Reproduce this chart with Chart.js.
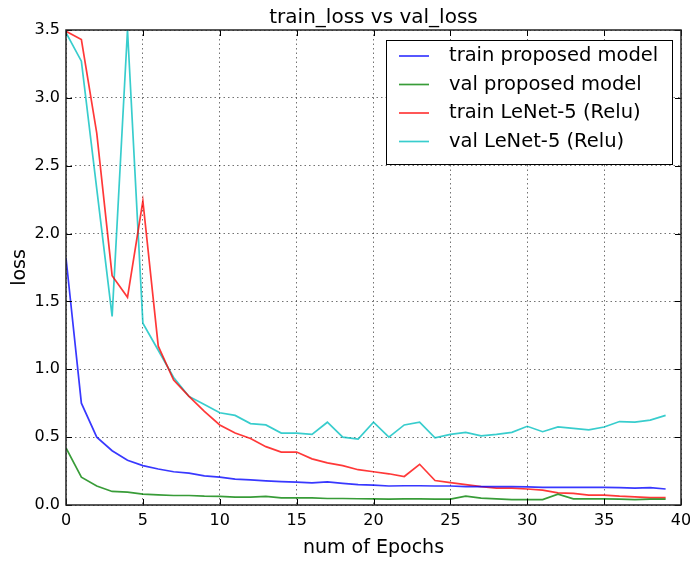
<!DOCTYPE html>
<html>
<head>
<meta charset="utf-8">
<script src="https://cdn.jsdelivr.net/npm/chart.js@4"></script>
<style>
  html, body { margin: 0; padding: 0; background: #fff; }
  #wrap { width: 690px; height: 562px; }
</style>
</head>
<body>
<div id="wrap"><canvas id="myChart" width="690" height="562"></canvas></div>
<script>
// epochs 0..39
var epochs = [0,1,2,3,4,5,6,7,8,9,10,11,12,13,14,15,16,17,18,19,
              20,21,22,23,24,25,26,27,28,29,30,31,32,33,34,35,36,37,38,39]

var trainProposed = [1.82,0.75,0.50,0.40,0.33,0.29,0.265,0.245,0.235,0.215,
                     0.205,0.19,0.185,0.178,0.172,0.168,0.163,0.17,0.16,0.15,
                     0.147,0.14,0.142,0.142,0.14,0.14,0.135,0.135,0.135,0.135,
                     0.133,0.13,0.13,0.13,0.13,0.13,0.128,0.125,0.128,0.118]
var valProposed = [0.42,0.205,0.14,0.10,0.095,0.08,0.075,0.07,0.07,0.065,
                   0.063,0.058,0.058,0.063,0.052,0.052,0.052,0.048,0.048,0.046,
                   0.045,0.044,0.045,0.045,0.044,0.043,0.065,0.05,0.045,0.04,
                   0.04,0.04,0.08,0.045,0.045,0.045,0.043,0.04,0.043,0.043]
var trainLenet = [3.49,3.43,2.74,1.69,1.53,2.24,1.17,0.92,0.80,0.69,
                  0.59,0.53,0.49,0.43,0.39,0.39,0.34,0.31,0.29,0.26,
                  0.245,0.23,0.21,0.30,0.18,0.165,0.15,0.135,0.125,0.125,
                  0.118,0.11,0.09,0.085,0.073,0.073,0.065,0.06,0.055,0.055]
var valLenet = [3.48,3.27,2.33,1.39,3.5,1.34,1.14,0.94,0.80,0.74,
                0.68,0.66,0.60,0.59,0.53,0.53,0.52,0.61,0.50,0.485,
                0.61,0.50,0.59,0.61,0.495,0.52,0.535,0.51,0.52,0.535,
                0.58,0.54,0.575,0.565,0.553,0.575,0.615,0.61,0.625,0.66]

var seriesNames = ['train proposed model', 'val proposed model', 'train LeNet-5 (Relu)', 'val LeNet-5 (Relu)']
var seriesValues = [trainProposed, valProposed, trainLenet, valLenet]
var colors = ['rgba(0, 0, 255, 0.78)',
              'rgba(0, 128, 0, 0.78)',
              'rgba(255, 0, 0, 0.78)',
              'rgba(0, 191, 191, 0.78)']

var FONT = '"DejaVu Sans", sans-serif'

var datasets = []
for (var i = 0; i < seriesNames.length; i++) {
  datasets.push({
    label: seriesNames[i],
    data: epochs.map(function (e, j) { return {x: e, y: seriesValues[i][j]} }),
    borderColor: colors[i],
    backgroundColor: colors[i],
    borderWidth: 1.7,
    pointRadius: 0,
    tension: 0,
    fill: false
  })
}

// frame, inward ticks, title, legend box
var decor = {
  id: 'decor',
  afterDraw (chart) {
    var ctx = chart.ctx
    var a = chart.chartArea
    var xs = chart.scales.x, ys = chart.scales.y
    ctx.save()
    // ticks pointing inward
    ctx.strokeStyle = '#000'
    ctx.lineWidth = 1
    ctx.beginPath()
    xs.ticks.forEach(function (t) {
      var px = Math.round(xs.getPixelForValue(t.value)) + 0.5
      ctx.moveTo(px, a.bottom); ctx.lineTo(px, a.bottom - 6)
      ctx.moveTo(px, a.top); ctx.lineTo(px, a.top + 6)
    })
    ys.ticks.forEach(function (t) {
      var py = Math.round(ys.getPixelForValue(t.value)) + 0.5
      ctx.moveTo(a.left, py); ctx.lineTo(a.left + 6, py)
      ctx.moveTo(a.right, py); ctx.lineTo(a.right - 6, py)
    })
    ctx.stroke()
    // frame
    ctx.lineWidth = 1.5
    ctx.strokeStyle = '#222'
    ctx.strokeRect(a.left, a.top, a.right - a.left, a.bottom - a.top)
    // title
    ctx.fillStyle = '#000'
    ctx.font = '20px ' + FONT
    ctx.textAlign = 'center'
    ctx.textBaseline = 'alphabetic'
    ctx.fillText('train_loss vs val_loss', (a.left + a.right) / 2, 23)
    // legend
    var lx = 386, ly = 40, lw = 286, lh = 124
    ctx.fillStyle = '#fff'
    ctx.fillRect(lx, ly, lw, lh)
    ctx.lineWidth = 1
    ctx.strokeStyle = '#000'
    ctx.strokeRect(lx + 0.5, ly + 0.5, lw, lh)
    ctx.font = '19.5px ' + FONT
    ctx.textAlign = 'left'
    ctx.textBaseline = 'middle'
    chart.data.datasets.forEach(function (ds, k) {
      var y = ly + 16 + k * 28.5
      ctx.strokeStyle = ds.borderColor
      ctx.lineWidth = 1.7
      ctx.beginPath()
      ctx.moveTo(lx + 13, y); ctx.lineTo(lx + 43, y)
      ctx.stroke()
      ctx.fillStyle = '#000'
      ctx.fillText(ds.label, lx + 63, y)
    })
    ctx.restore()
  }
}

var ctx = document.getElementById('myChart').getContext('2d')
var chart = new Chart(ctx, {
  type: 'line',
  data: { datasets: datasets },
  plugins: [decor],
  options: {
    responsive: false,
    animation: false,
    layout: { padding: { top: 30, right: 9, left: 0, bottom: 0 } },
    plugins: {
      legend: { display: false },
      title: { display: false },
      tooltip: { enabled: false }
    },
    scales: {
      x: {
        type: 'linear',
        min: 0, max: 40,
        afterFit (scale) {
          scale.height = 57
          scale.paddingLeft = 0
          scale.paddingRight = 0
        },
        ticks: { stepSize: 5, color: '#000', font: { family: FONT, size: 16 }, maxRotation: 0, padding: 6 },
        grid: { color: 'rgba(0,0,0,0.55)', lineWidth: 1, drawTicks: false },
        border: { display: false, dash: [1.5, 3] },
        title: { display: true, text: 'num of Epochs', color: '#000', font: { family: FONT, size: 19 }, padding: { top: 0, bottom: 3 } }
      },
      y: {
        min: 0, max: 3.5,
        afterFit (scale) {
          scale.width = 66
          scale.paddingTop = 0
          scale.paddingBottom = 0
        },
        ticks: { stepSize: 0.5, color: '#000', font: { family: FONT, size: 16 }, padding: 6,
                 callback (v) { return v.toFixed(1) } },
        grid: { color: 'rgba(0,0,0,0.55)', lineWidth: 1, drawTicks: false },
        border: { display: false, dash: [1.5, 3] },
        title: { display: true, text: 'loss', color: '#000', font: { family: FONT, size: 19 }, padding: { top: 9, bottom: 0 } }
      }
    }
  }
})
</script>
</body>
</html>
